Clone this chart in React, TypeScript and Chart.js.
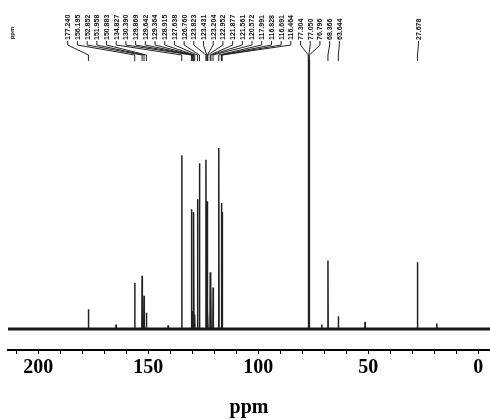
import React, { useEffect, useRef } from "react";
import { Chart, registerables } from "chart.js";

Chart.register(...registerables);

// Labelled 13C peaks (ppm) and their relative intensities
const peakShifts = [
  177.24, 156.195, 152.852, 151.958, 150.883, 134.827, 130.39, 129.869, 129.642, 129.364,
  128.915, 127.638, 126.76, 123.823, 123.431, 123.204, 122.952, 121.877, 121.561, 120.572,
  117.991, 116.828, 116.691, 116.464, 77.304, 77.05, 76.796, 68.366, 63.644, 27.678,
];
const peakHeights = [
  11, 25.5, 29.5, 18.5, 9, 96.5, 66.5, 10, 8, 65,
  8, 72, 92, 94, 8, 71, 10, 31.5, 27, 23,
  100.5, 70, 8, 65, 200, 210, 200, 38, 7, 37,
];
const peakLabels = [
  "177.240", "156.195", "152.852", "151.958", "150.883", "134.827", "130.390", "129.869", "129.642", "129.364",
  "128.915", "127.638", "126.760", "123.823", "123.431", "123.204", "122.952", "121.877", "121.561", "120.572",
  "117.991", "116.828", "116.691", "116.464", "77.304", "77.050", "76.796", "68.366", "63.644", "27.678",
];
// Small unlabelled bumps
const minorShifts = [164.7, 141.0, 71.2, 51.5, 18.9];
const minorHeights = [2.5, 2, 2.5, 4, 3];

const xTickValues = [0, 10, 20, 30, 40, 50, 60, 70, 80, 90, 100, 110, 120, 130, 140, 150, 160, 170, 180, 190, 200, 210];
const xMajorLabels = [0, 50, 100, 150, 200];
const X_MIN = -5.3;
const X_MAX = 213.8;
const Y_MIN = -11.7;
const Y_MAX = 149.4;
const PEAK_HALF_WIDTH = 0.12;
const LABEL_GAP = 9.7;

function buildSpectrum() {
  const all: { p: number; h: number }[] = [];
  peakShifts.forEach((p, i) => all.push({ p, h: peakHeights[i] }));
  minorShifts.forEach((p, i) => all.push({ p, h: minorHeights[i] }));
  all.sort((a, b) => b.p - a.p);
  const pts: { x: number; y: number }[] = [{ x: X_MAX, y: 0 }];
  all.forEach(({ p, h }) => {
    pts.push({ x: p + PEAK_HALF_WIDTH, y: 0 });
    pts.push({ x: p, y: h });
    pts.push({ x: p - PEAK_HALF_WIDTH, y: 0 });
  });
  pts.push({ x: X_MIN, y: 0 });
  return pts;
}

const labelPlugin = {
  id: "peakLabels",
  afterDraw(chart: any) {
    const ctx = chart.ctx as CanvasRenderingContext2D;
    const xs = chart.scales.x;
    const top = chart.chartArea.top;
    const desired = peakShifts.map((v) => xs.getPixelForValue(v));
    const order = desired.map((_, i) => i).sort((a, b) => desired[a] - desired[b]);
    const centered = (c: number[]) => {
      const mean = c.reduce((s, i) => s + desired[i], 0) / c.length;
      return c.map((_, k) => mean + (k - (c.length - 1) / 2) * LABEL_GAP);
    };
    const anchored = (c: number[]) => {
      const right = desired[c[c.length - 1]];
      return c.map((_, k) => right - (c.length - 1 - k) * LABEL_GAP);
    };
    const clusters: number[][] = [];
    order.forEach((i) => {
      clusters.push([i]);
      let merged = true;
      while (merged && clusters.length > 1) {
        merged = false;
        const a = clusters[clusters.length - 2];
        const b = clusters[clusters.length - 1];
        const pa = centered(a);
        const pb = centered(b);
        if (pa[pa.length - 1] + LABEL_GAP > pb[0]) {
          clusters.splice(clusters.length - 2, 2, a.concat(b));
          merged = true;
        }
      }
    });
    const pos: number[] = new Array(peakShifts.length);
    clusters.forEach((c) => {
      const p = anchored(c);
      c.forEach((idx, k) => (pos[idx] = p[k] + 1));
    });

    ctx.save();
    ctx.strokeStyle = "#222";
    ctx.lineWidth = 1;
    ctx.fillStyle = "#111";
    ctx.font = "bold 7px 'Liberation Sans', Arial, sans-serif";
    peakShifts.forEach((_, i) => {
      const lx = pos[i];
      const px = desired[i];
      ctx.beginPath();
      ctx.moveTo(lx, 41);
      ctx.lineTo(lx, 45);
      ctx.lineTo(px, 55);
      ctx.lineTo(px, top + 1);
      ctx.stroke();
      ctx.save();
      ctx.translate(lx, 40);
      ctx.rotate(-Math.PI / 2);
      ctx.textAlign = "left";
      ctx.textBaseline = "middle";
      ctx.fillText(peakLabels[i], 0, 0.5);
      ctx.restore();
    });
    // small axis-unit caption at top-left
    ctx.save();
    ctx.translate(12.5, 33);
    ctx.rotate(-Math.PI / 2);
    ctx.font = "bold 6px 'Liberation Sans', Arial, sans-serif";
    ctx.textAlign = "center";
    ctx.textBaseline = "middle";
    ctx.fillText("ppm", 0, 0);
    ctx.restore();
    ctx.restore();
  },
};

export default function App() {
  const ref = useRef<HTMLCanvasElement | null>(null);
  useEffect(() => {
    if (!ref.current) return;
    const chart = new Chart(ref.current, {
      type: "line",
      data: {
        datasets: [
          {
            data: [
              { x: X_MAX, y: 0 },
              { x: X_MIN, y: 0 },
            ],
            borderColor: "#1a1a1a",
            borderWidth: 3,
            pointRadius: 0,
          },
          {
            data: buildSpectrum(),
            borderColor: "#222",
            borderWidth: 1.5,
            pointRadius: 0,
            tension: 0,
          },
        ],
      },
      options: {
        responsive: false,
        animation: false,
        events: [],
        layout: { padding: { left: 8, right: 0, top: 60, bottom: 0 } },
        plugins: { legend: { display: false }, tooltip: { enabled: false } },
        scales: {
          x: {
            type: "linear",
            reverse: true,
            min: X_MIN,
            max: X_MAX,
            afterBuildTicks: (scale: any) => {
              scale.ticks = xTickValues.map((value) => ({ value }));
            },
            ticks: {
              autoSkip: false,
              maxRotation: 0,
              padding: 2,
              color: "#000",
              font: { family: "'Liberation Serif', 'Times New Roman', serif", weight: "bold", size: 20 },
              callback: (v: any) => (xMajorLabels.includes(Number(v)) ? String(v) : ""),
            },
            grid: { drawOnChartArea: false, drawTicks: true, tickLength: 4, color: "#000", lineWidth: 1 },
            border: { display: true, color: "#000", width: 2 },
            title: {
              display: true,
              text: "ppm",
              color: "#000",
              font: { family: "'Liberation Serif', 'Times New Roman', serif", weight: "bold", size: 20 },
              padding: { top: 14, bottom: 0 },
            },
          },
          y: { type: "linear", display: false, min: Y_MIN, max: Y_MAX },
        },
      },
      plugins: [labelPlugin],
    } as any);
    return () => chart.destroy();
  }, []);
  return (
    <div style={{ position: "fixed", left: 0, top: 0, width: 490, height: 420, background: "#fff" }}>
      <canvas ref={ref} width={490} height={420} />
    </div>
  );
}
